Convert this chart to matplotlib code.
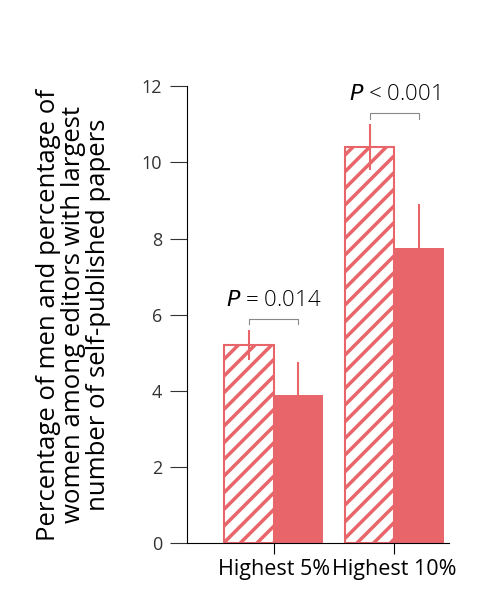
import matplotlib
matplotlib.use("Agg")
import matplotlib.pyplot as plt
import numpy as np

plt.rcParams['font.family'] = ['Open Sans', 'DejaVu Sans']
plt.rcParams['hatch.linewidth'] = 2.5
plt.rcParams['hatch.color'] = '#e8656a'

categories = ['Highest 5%', 'Highest 10%']
men = [5.2, 10.4]
men_lo = [4.8, 9.8]
men_hi = [5.6, 11.0]
women = [3.9, 7.75]
women_lo = [3.05, 6.55]
women_hi = [4.75, 8.9]
pvals = ['$P$ = 0.014', '$P$ < 0.001']

red = '#e8656a'
fig = plt.figure(figsize=(4.78, 6.07), dpi=100)
ax = fig.add_axes([0.391, 0.105, 0.56, 0.753])
x = np.arange(len(categories)) * 1.0
w = 0.41
ax.bar(x - w/2, men, w, facecolor='white', edgecolor=red, hatch='//', linewidth=1.5)
ax.bar(x + w/2, women, w, color=red)
ax.vlines(x - w/2, men_lo, men_hi, color=red, lw=1.5)
ax.vlines(x + w/2, women_lo, women_hi, color=red, lw=1.5)
for i in range(len(categories)):
    top = men_hi[i] + 0.3
    ax.plot([x[i]-w/2, x[i]-w/2, x[i]+w/2, x[i]+w/2], [top-0.15, top, top, top-0.15], color='#888888', lw=0.8)
    ax.text(x[i], top + 0.2, pvals[i], ha='center', va='bottom', fontsize=16, fontweight='light')
ax.set_xlim(-0.72, 1.5)
ax.set_ylim(0, 12)
ax.set_yticks(range(0, 13, 2))
ax.set_xticks(x)
ax.set_xticklabels(categories, fontsize=15.5)
ax.tick_params(axis='y', labelsize=13, colors='#333333', length=12, width=0.8, pad=6)
ax.tick_params(axis='x', length=8, width=0.8)
for s in ['top', 'right']:
    ax.spines[s].set_visible(False)
ax.spines['bottom'].set_bounds(-0.72, 1.45)
ax.set_ylabel('Percentage of men and percentage of\nwomen among editors with largest\nnumber of self-published papers',
              fontsize=18.5, linespacing=1.0, labelpad=22)
fig.savefig('out.png', dpi=100)
